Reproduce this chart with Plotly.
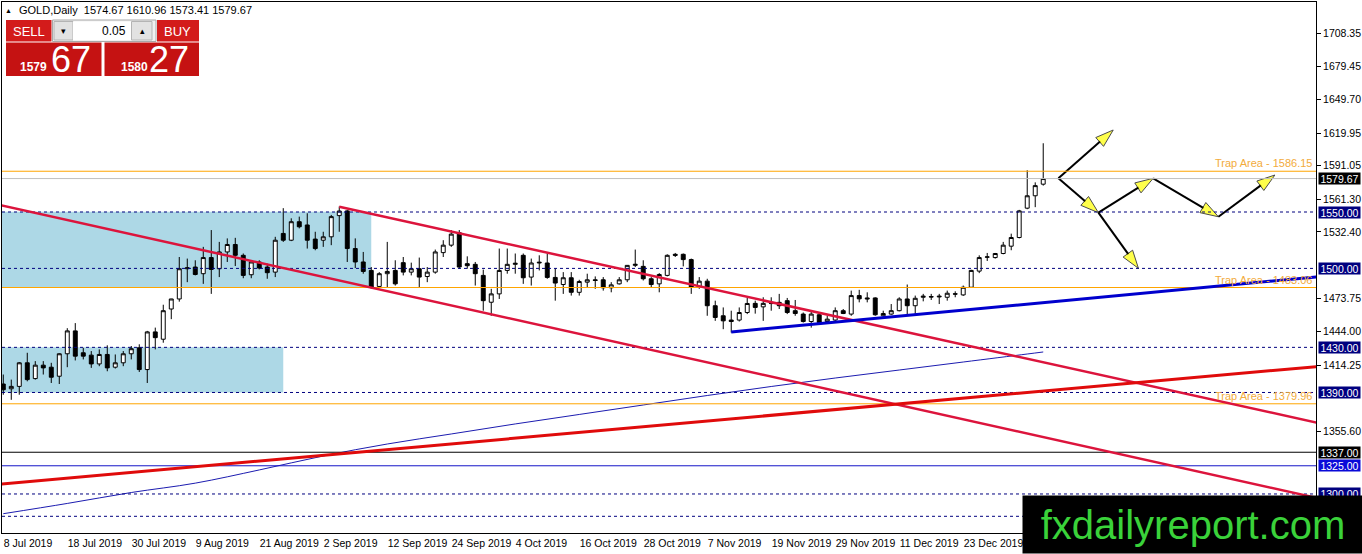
import pandas as pd
import plotly.graph_objects as go

# GOLD daily bars, 8 Jul 2019 - 6 Jan 2020
dates = pd.bdate_range("2019-07-08", "2020-01-06").strftime("%Y-%m-%d").tolist()
bar_pos = list(range(len(dates)))

opens = [1397.5, 1393.3, 1395.4, 1416.3, 1402.3, 1414.2, 1412.4, 1404.4, 1424.3, 1444.6,
         1425.2, 1423.1, 1415.3, 1423.7, 1412.4, 1416.3, 1424.3, 1429.6, 1410.3, 1443.7,
         1437.2, 1464.0, 1472.9, 1499.7, 1501.2, 1495.3, 1509.6, 1499.7, 1514.6, 1521.2,
         1511.6, 1494.4, 1505.7, 1501.2, 1496.7, 1531.0, 1525.0, 1541.4, 1538.5, 1526.0,
         1525.0, 1528.0, 1546.8, 1551.0, 1517.6, 1505.7, 1498.2, 1484.0, 1495.3, 1498.2,
         1505.1, 1496.7, 1499.7, 1492.8, 1496.7, 1514.0, 1520.6, 1531.6, 1504.2, 1503.6,
         1493.8, 1470.0, 1477.4, 1498.2, 1503.6, 1511.6, 1492.3, 1504.8, 1504.8, 1492.0,
         1485.7, 1491.7, 1478.8, 1487.8, 1489.9, 1489.9, 1482.8, 1486.3, 1489.9, 1502.7,
         1501.8, 1490.8, 1486.3, 1493.8, 1512.5, 1512.5, 1507.8, 1483.3, 1488.7, 1466.9,
         1458.0, 1454.2, 1454.2, 1460.9, 1469.0, 1465.9, 1468.8, 1469.9, 1471.4, 1462.5,
         1459.5, 1452.9, 1458.9, 1452.9, 1454.2, 1462.5, 1459.5, 1475.9, 1473.8, 1473.8,
         1458.0, 1459.5, 1462.5, 1472.9, 1466.9, 1474.4, 1475.0, 1474.7, 1474.4, 1477.5,
         1476.5, 1483.3, 1497.6, 1509.9, 1509.6, 1513.2, 1519.7, 1527.4, 1553.4, 1564.4,
         1574.67]
highs = [1405.9, 1401.4, 1417.0, 1425.2, 1417.8, 1417.8, 1416.3, 1424.8, 1447.0, 1451.5,
         1429.6, 1426.7, 1428.2, 1431.8, 1423.7, 1426.7, 1431.2, 1432.7, 1444.6, 1447.5,
         1467.8, 1473.0, 1510.1, 1508.7, 1507.2, 1519.1, 1534.0, 1523.5, 1526.6, 1527.1,
         1513.2, 1507.2, 1507.2, 1504.2, 1528.0, 1553.4, 1544.4, 1545.9, 1548.9, 1532.5,
         1532.5, 1547.4, 1554.9, 1551.9, 1526.6, 1514.6, 1501.2, 1496.7, 1523.5, 1507.2,
         1510.1, 1505.1, 1509.6, 1501.2, 1516.7, 1525.0, 1534.0, 1534.0, 1510.7, 1505.7,
         1498.9, 1481.9, 1517.6, 1517.6, 1513.2, 1513.2, 1508.7, 1511.6, 1513.2, 1500.0,
         1496.7, 1496.7, 1489.9, 1495.3, 1492.9, 1492.3, 1487.8, 1492.3, 1503.0, 1516.7,
         1507.2, 1492.3, 1495.8, 1512.5, 1513.7, 1513.2, 1508.7, 1492.3, 1490.8, 1471.4,
         1465.4, 1462.5, 1465.4, 1473.8, 1471.4, 1474.4, 1474.4, 1477.4, 1473.8, 1472.0,
         1460.9, 1462.5, 1460.9, 1458.0, 1465.4, 1464.0, 1480.3, 1481.0, 1478.8, 1474.4,
         1462.5, 1468.4, 1474.4, 1485.7, 1475.9, 1477.4, 1477.4, 1477.4, 1480.3, 1479.7,
         1484.8, 1498.8, 1511.6, 1513.7, 1513.7, 1523.5, 1530.8, 1551.9, 1587.0, 1576.3,
         1610.96]
lows = [1388.0, 1383.5, 1388.0, 1399.9, 1401.4, 1405.9, 1398.4, 1397.5, 1412.4, 1418.4,
        1419.3, 1411.8, 1413.3, 1408.8, 1411.2, 1413.3, 1419.3, 1408.2, 1398.4, 1428.2,
        1434.1, 1455.0, 1470.5, 1487.8, 1493.8, 1486.3, 1477.4, 1492.3, 1505.7, 1502.1,
        1491.3, 1491.3, 1499.1, 1490.8, 1492.3, 1523.5, 1524.2, 1535.5, 1517.6, 1516.1,
        1519.1, 1520.6, 1532.5, 1505.7, 1500.3, 1495.3, 1481.9, 1483.3, 1483.3, 1484.8,
        1493.8, 1493.8, 1483.3, 1487.8, 1495.3, 1510.1, 1519.1, 1499.7, 1499.7, 1484.8,
        1462.5, 1458.0, 1472.9, 1495.3, 1495.3, 1486.3, 1484.8, 1498.2, 1490.8, 1471.4,
        1477.4, 1475.9, 1475.9, 1483.3, 1481.9, 1480.3, 1478.8, 1485.7, 1487.8, 1501.2,
        1489.3, 1483.3, 1478.8, 1492.9, 1510.1, 1501.8, 1477.4, 1481.9, 1458.0, 1453.5,
        1446.1, 1443.1, 1452.9, 1459.5, 1459.9, 1453.5, 1462.5, 1464.0, 1459.5, 1458.0,
        1452.0, 1447.5, 1450.5, 1452.0, 1452.9, 1459.5, 1458.0, 1469.9, 1469.9, 1458.0,
        1457.1, 1458.9, 1461.9, 1459.5, 1459.5, 1470.8, 1472.0, 1468.4, 1471.4, 1474.4,
        1475.6, 1482.8, 1495.8, 1506.6, 1508.7, 1512.5, 1516.1, 1526.6, 1552.5, 1554.3,
        1573.41]
closes = [1392.4, 1395.4, 1416.3, 1401.4, 1414.2, 1411.8, 1403.5, 1424.3, 1444.6, 1422.2,
          1422.2, 1415.3, 1423.7, 1411.8, 1416.3, 1424.3, 1428.8, 1410.3, 1443.7, 1438.6,
          1462.5, 1472.9, 1499.7, 1500.5, 1494.6, 1509.6, 1499.1, 1514.6, 1521.2, 1511.6,
          1493.8, 1505.7, 1500.3, 1496.2, 1525.0, 1525.0, 1541.4, 1536.9, 1525.0, 1517.6,
          1528.0, 1545.9, 1550.9, 1517.6, 1505.7, 1497.3, 1483.3, 1495.3, 1497.3, 1486.3,
          1496.7, 1499.7, 1492.3, 1496.7, 1514.6, 1520.6, 1530.4, 1501.2, 1502.4, 1495.3,
          1471.4, 1477.4, 1498.2, 1503.6, 1504.5, 1491.7, 1504.8, 1505.4, 1492.0, 1487.0,
          1491.7, 1478.8, 1488.4, 1489.9, 1489.3, 1482.8, 1485.4, 1489.9, 1502.7, 1503.6,
          1490.8, 1485.7, 1494.6, 1511.6, 1511.6, 1507.8, 1483.3, 1488.7, 1466.9, 1456.5,
          1453.5, 1452.9, 1460.9, 1468.9, 1465.4, 1469.0, 1469.0, 1466.9, 1460.9, 1460.0,
          1452.9, 1459.5, 1452.0, 1455.0, 1462.5, 1460.0, 1475.9, 1473.0, 1473.0, 1458.9,
          1460.0, 1462.5, 1472.9, 1466.9, 1473.5, 1475.3, 1474.7, 1475.3, 1478.0, 1477.2,
          1483.3, 1498.2, 1509.6, 1510.2, 1513.2, 1520.6, 1527.4, 1551.0, 1564.4, 1573.4,
          1579.67]

# slow moving average (thin blue curve), read every 8 bars
ma_bars = [0, 8, 16, 24, 32, 40, 48, 56, 64, 72, 80, 88, 96, 104, 112, 120, 128, 130]
ma_vals = [1282.5, 1291.6, 1301.3, 1309.6, 1321.3, 1333.7, 1344.3, 1353.2, 1362.1, 1370.5,
           1378.9, 1387.3, 1395.3, 1402.8, 1409.9, 1417.0, 1424.1, 1425.9]

# right axis ticks
price_ticks = [1708.35, 1679.45, 1649.70, 1619.95, 1591.05, 1561.30, 1532.40,
               1473.75, 1444.00, 1414.25, 1355.60]
# x axis labels every 8 bars (the last one sits under the watermark)
label_bars = bar_pos[:121:8]

# horizontal levels
dashed_levels = [1550.0, 1500.0, 1430.0, 1390.0, 1300.0, 1280.2]
trap_levels = [1586.15, 1483.06, 1379.96]
current_price = 1579.67
# price tags on the axis: (price, box colour)
price_tags = [(1550.0, "#00007f"), (1500.0, "#00007f"), (1430.0, "#00007f"),
              (1390.0, "#00007f"), (1337.0, "#000000"), (1325.0, "#0a0ad8"),
              (1300.0, "#00007f")]

# zones (bar from, bar to, price low, price high)
zones = [(-3, 46, 1483.06, 1550.3), (-3, 35, 1390.0, 1430.0)]

# trend lines (bar, price) anchors
channel_lines = [((-1, 1557.1), (166, 1293.6)), ((42, 1554.7), (166, 1360.4))]
red_line = ((-1, 1308.3), (166, 1414.1))
support_line = ((91, 1443.7), (166, 1493.7))

# scenario arrows (bar position, price)
scenario = {
    "A": (131.9, 1579.9), "T": (138.75, 1622.7), "B": (136.9, 1549.4),
    "F": (141.9, 1500.1), "C": (143.75, 1579.9), "D": (151.9, 1545.8),
    "E": (158.96, 1582.8),
}
arrow_paths = [("A", "T"), ("A", "B"), ("B", "C"), ("C", "D"), ("D", "E"), ("B", "F")]

FONT = "Liberation Sans Narrow, Liberation Sans, Arial"

fig = go.Figure()

fig.add_trace(go.Candlestick(
    x=bar_pos, open=opens, high=highs, low=lows, close=closes,
    increasing=dict(line=dict(color="black", width=1), fillcolor="white"),
    decreasing=dict(line=dict(color="black", width=1), fillcolor="black"),
    whiskerwidth=0, hoverinfo="skip", showlegend=False,
))

fig.add_trace(go.Scatter(
    x=ma_bars, y=ma_vals, mode="lines", line_shape="spline",
    line=dict(color="#1c1cb0", width=1), hoverinfo="skip", showlegend=False,
))

for a, b in arrow_paths:
    p0, p1 = scenario[a], scenario[b]
    fig.add_trace(go.Scatter(
        x=[p0[0], p1[0]], y=[p0[1], p1[1]], mode="lines+markers",
        line=dict(color="black", width=2),
        marker=dict(symbol="arrow", size=[0, 19], angleref="previous",
                    color="#ffff00", line=dict(color="black", width=1)),
        hoverinfo="skip", showlegend=False,
    ))

shapes = []
for x0, x1, lo, hi in zones:
    shapes.append(dict(type="rect", xref="x", yref="y", x0=x0, x1=x1, y0=lo, y1=hi,
                       fillcolor="#add8e6", line=dict(width=0), layer="below"))
for lvl in trap_levels:
    shapes.append(dict(type="line", xref="paper", yref="y", x0=0, x1=1, y0=lvl, y1=lvl,
                       line=dict(color="#ffa500", width=1)))
shapes.append(dict(type="line", xref="paper", yref="y", x0=0, x1=1,
                   y0=current_price, y1=current_price, line=dict(color="#c0c0c0", width=1)))
for lvl in dashed_levels:
    shapes.append(dict(type="line", xref="paper", yref="y", x0=0, x1=1, y0=lvl, y1=lvl,
                       line=dict(color="#00007f", width=1, dash="3px,3px")))
shapes.append(dict(type="line", xref="paper", yref="y", x0=0, x1=1, y0=1337, y1=1337,
                   line=dict(color="black", width=1)))
shapes.append(dict(type="line", xref="paper", yref="y", x0=0, x1=1, y0=1325, y1=1325,
                   line=dict(color="#1515c8", width=1)))
for (x0, y0), (x1, y1) in channel_lines:
    shapes.append(dict(type="line", xref="x", yref="y", x0=x0, y0=y0, x1=x1, y1=y1,
                       line=dict(color="#dc143c", width=2.5)))
shapes.append(dict(type="line", xref="x", yref="y", x0=red_line[0][0], y0=red_line[0][1],
                   x1=red_line[1][0], y1=red_line[1][1], line=dict(color="#e00b0b", width=3)))
shapes.append(dict(type="line", xref="x", yref="y", x0=support_line[0][0],
                   y0=support_line[0][1], x1=support_line[1][0], y1=support_line[1][1],
                   line=dict(color="#0000cd", width=3)))


# pixel helpers for the trade panel (plot area spans x 2..1316, y 2..533)
def px(x):
    return (x - 2) / 1314


def py(y):
    return (533 - y) / 531


def box(x0, y0, x1, y1, fill, line="rgba(0,0,0,0)"):
    shapes.append(dict(type="rect", xref="paper", yref="paper", x0=px(x0), x1=px(x1),
                       y0=py(y1), y1=py(y0), fillcolor=fill, line=dict(color=line, width=1),
                       layer="above"))


box(6, 20, 51.5, 41.5, "#d31b1b")
box(6, 42.5, 101.5, 76, "#c51212")
box(157, 20, 199, 41.5, "#d31b1b")
box(104.5, 42.5, 199, 76, "#c51212")
box(52.5, 20, 156, 41.5, "#f0f0f0", "#a8a8a8")
box(54, 21.5, 73, 40, "#e2e2e2", "#b4b4b4")
box(73, 21.5, 131.5, 40, "#ffffff")
box(131.5, 21.5, 152, 40, "#e2e2e2", "#b4b4b4")

annotations = []


def label(x, y, text, size, color="white", anchor="center", bold=False, family="Liberation Sans"):
    if bold:
        text = "<b>" + text + "</b>"
    annotations.append(dict(xref="paper", yref="paper", x=px(x), y=py(y), text=text,
                            showarrow=False, xanchor=anchor, yanchor="middle",
                            font=dict(size=size, color=color, family=family)))


label(8, 10, "▲", 7, "black")
label(17, 10, "GOLD,Daily  1574.67 1610.96 1573.41 1579.67", 11, "black", "left", family=FONT)
label(28.5, 31, "SELL", 13)
label(177.5, 31, "BUY", 13)
label(128, 31, "0.05", 12, "black", "right")
label(63.5, 31, "▾", 9, "black")
label(142, 31, "▴", 9, "black")
label(33.5, 66.5, "1579", 12, bold=True)
label(71, 59, "67", 36)
label(134, 66.5, "1580", 12, bold=True)
label(168.5, 59, "27", 36)

for lvl in trap_levels:
    annotations.append(dict(xref="paper", yref="y", x=1, y=lvl, xshift=-2,
                            text="Trap Area - %.2f" % lvl, showarrow=False,
                            xanchor="right", yanchor="bottom",
                            font=dict(size=11, color="#f2ab3c", family=FONT)))

for price, colour in price_tags + [(current_price, "#000000")]:
    annotations.append(dict(xref="paper", yref="y", x=1, y=price, xshift=2,
                            text="%.2f" % price, showarrow=False, xanchor="left",
                            yanchor="middle", width=41, height=11, borderpad=0,
                            bgcolor=colour, font=dict(size=10.5, color="white", family=FONT)))

annotations.append(dict(xref="paper", yref="paper", x=px(1022), y=py(554),
                        xanchor="left", yanchor="bottom", width=340, height=57,
                        bgcolor="black", borderpad=0, showarrow=False,
                        text="fxdailyreport.com",
                        font=dict(size=40, color="#3ad23a", family="Liberation Sans")))

fig.update_layout(
    width=1362, height=554,
    margin=dict(l=2, r=46, t=2, b=21),
    paper_bgcolor="white", plot_bgcolor="white",
    font=dict(family=FONT, size=10.5, color="black"),
    shapes=shapes, annotations=annotations,
    showlegend=False,
    xaxis=dict(range=[-0.16, 164.1], rangeslider=dict(visible=False),
               tickvals=label_bars,
               ticktext=[pd.Timestamp(dates[i]).strftime("%-d %b %Y") for i in label_bars],
               ticklabelposition="outside right", tickangle=0, automargin=False,
               ticks="", showgrid=False,
               showline=True, mirror=True, linecolor="black", linewidth=1, zeroline=False),
    yaxis=dict(side="right", range=[1265.4, 1736.2], tickvals=price_ticks,
               ticktext=["%.2f" % v for v in price_ticks], ticks="outside", ticklen=4,
               tickcolor="black", showgrid=False, showline=True, mirror=True,
               automargin=False, linecolor="black", linewidth=1, zeroline=False),
)

fig.write_html("out.html", config={"displayModeBar": False},
               post_script="document.body.style.margin='0';document.body.style.overflow='hidden';")
